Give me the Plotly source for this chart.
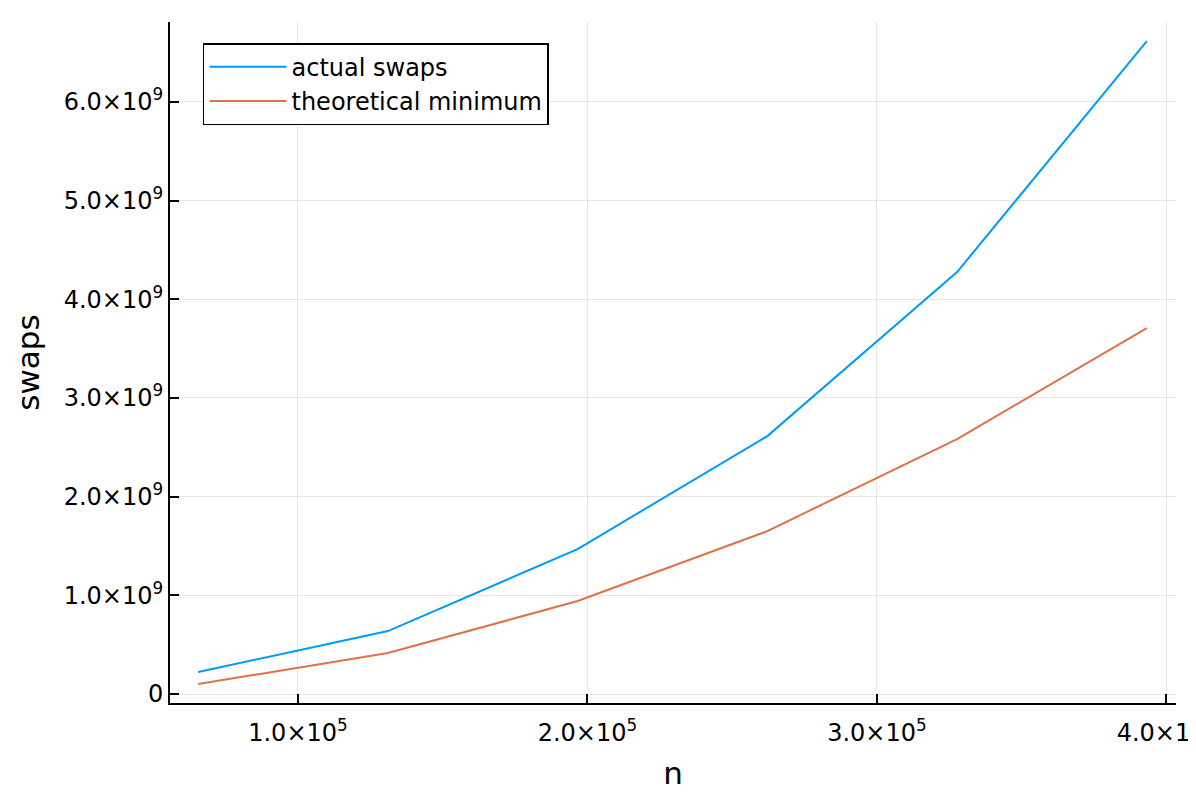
import plotly.graph_objects as go

n_values = [65536, 131072, 196608, 262144, 327680, 393216]
actual_swaps = [0.223e9, 0.638e9, 1.469e9, 2.614e9, 4.276e9, 6.616e9]
theoretical_min = [0.101e9, 0.415e9, 0.942e9, 1.651e9, 2.584e9, 3.708e9]

x_tickvals = [1.0e5, 2.0e5, 3.0e5, 4.0e5]
x_ticktext = ["1.0×10<sup>5</sup>", "2.0×10<sup>5</sup>", "3.0×10<sup>5</sup>", "4.0×10<sup>5</sup>"]
y_tickvals = [0, 1e9, 2e9, 3e9, 4e9, 5e9, 6e9]
y_ticktext = ["0", "1.0×10<sup>9</sup>", "2.0×10<sup>9</sup>", "3.0×10<sup>9</sup>",
              "4.0×10<sup>9</sup>", "5.0×10<sup>9</sup>", "6.0×10<sup>9</sup>"]

FONT = "DejaVu Sans"
TICK_SIZE = 24
TITLE_SIZE = 31

fig = go.Figure()
fig.add_trace(go.Scatter(x=n_values, y=actual_swaps, mode="lines", name="actual swaps",
                         line=dict(color="#009AFA", width=2)))
fig.add_trace(go.Scatter(x=n_values, y=theoretical_min, mode="lines", name="theoretical minimum",
                         line=dict(color="#E36F47", width=2)))

axis_common = dict(
    showgrid=True, gridcolor="#E6E6E6", gridwidth=1,
    showline=True, linecolor="black", linewidth=2,
    ticks="inside", ticklen=9, tickwidth=1.5, tickcolor="black",
    zeroline=False, mirror=False,
    tickfont=dict(family=FONT, size=TICK_SIZE, color="black"),
)

fig.update_layout(
    width=1188, height=788,
    margin=dict(l=162, r=20, t=14, b=93, autoexpand=False),
    paper_bgcolor="white", plot_bgcolor="white",
    font=dict(family=FONT, color="black"),
    showlegend=True,
    legend=dict(
        x=0.0328, y=0.969, xanchor="left", yanchor="top",
        bgcolor="white", bordercolor="black", borderwidth=1.5,
        font=dict(family=FONT, size=TICK_SIZE, color="black"),
        tracegroupgap=0, itemwidth=77,
        entrywidth=274, entrywidthmode="pixels",
    ),
    xaxis=dict(
        range=[55800, 403300],
        tickvals=x_tickvals, ticktext=x_ticktext,
        ticklabeloverflow="allow", ticklabelstandoff=7,
        title=dict(text="n", font=dict(family=FONT, size=TITLE_SIZE, color="black"), standoff=17),
        **axis_common,
    ),
    yaxis=dict(
        range=[-0.091e9, 6.81e9],
        tickvals=y_tickvals, ticktext=y_ticktext,
        title=dict(text="swaps", font=dict(family=FONT, size=TITLE_SIZE, color="black"), standoff=15),
        **axis_common,
    ),
)

fig.write_html("out.html")
